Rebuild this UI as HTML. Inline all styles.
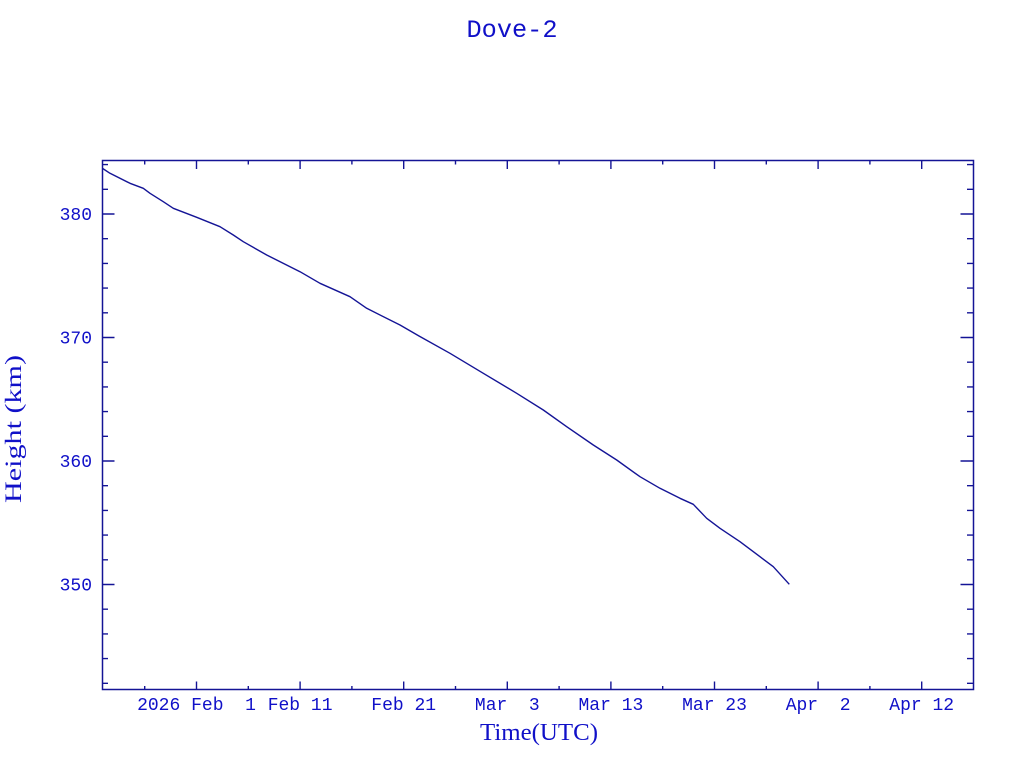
<!DOCTYPE html>
<html>
<head>
<meta charset="utf-8">
<style>
html,body{margin:0;padding:0;background:#fff;}
svg{display:block;}
</style>
</head>
<body>
<svg width="1024" height="768" viewBox="0 0 1024 768" xmlns="http://www.w3.org/2000/svg">
<rect x="0" y="0" width="1024" height="768" fill="#fff"/>
<text x="512" y="37" text-anchor="middle" font-family="Liberation Mono, monospace" font-size="25" fill="#1010c8" textLength="91" lengthAdjust="spacingAndGlyphs">Dove-2</text>

<rect x="102.5" y="160.5" width="871" height="529" fill="none" stroke="#141496" stroke-width="1.5"/>

<g stroke="#141496" stroke-width="1.4" fill="none">
<path d="M102 683.3h6M102 658.6h6M102 633.9h6M102 609.2h6M102 584.5h12.5M102 559.8h6M102 535.1h6M102 510.4h6M102 485.7h6M102 461h12.5M102 436.3h6M102 411.6h6M102 386.9h6M102 362.2h6M102 337.5h12.5M102 312.8h6M102 288.1h6M102 263.4h6M102 238.7h6M102 214h12.5M102 189.3h6M102 164.6h6"/>
<path d="M973 683.3h-6M973 658.6h-6M973 633.9h-6M973 609.2h-6M973 584.5h-12.5M973 559.8h-6M973 535.1h-6M973 510.4h-6M973 485.7h-6M973 461h-12.5M973 436.3h-6M973 411.6h-6M973 386.9h-6M973 362.2h-6M973 337.5h-12.5M973 312.8h-6M973 288.1h-6M973 263.4h-6M973 238.7h-6M973 214h-12.5M973 189.3h-6M973 164.6h-6"/>
<path d="M144.7 690v-4M196.5 690v-8.5M248.3 690v-4M300.1 690v-8.5M351.9 690v-4M403.7 690v-8.5M455.5 690v-4M507.3 690v-8.5M559.1 690v-4M610.9 690v-8.5M662.7 690v-4M714.5 690v-8.5M766.3 690v-4M818.1 690v-8.5M869.9 690v-4M921.7 690v-8.5"/>
<path d="M144.7 160v4.5M196.5 160v9M248.3 160v4.5M300.1 160v9M351.9 160v4.5M403.7 160v9M455.5 160v4.5M507.3 160v9M559.1 160v4.5M610.9 160v9M662.7 160v4.5M714.5 160v9M766.3 160v4.5M818.1 160v9M869.9 160v4.5M921.7 160v9"/>
</g>

<polyline fill="none" stroke="#141496" stroke-width="1.4" stroke-linejoin="round" points="102.7,168.5 110,173.3 130,183.3 143.3,188.3 150,193.3 163.3,201.7 173.3,208.3 196.7,217.3 220,226.7 233.3,235 243.3,241.7 266.7,255 300,271.7 320,283.3 350,296.7 366.7,308.3 400,325 419,336 450,353.3 483.3,373.3 516.7,393.3 543.3,410 566.7,426.7 593.3,445 616.7,460 640,476.7 660,488.3 680,498.3 693.3,504.3 706.7,518.3 720,528.3 740,541.7 760,556.7 773.3,566.7 789.3,584.3"/>

<g font-family="Liberation Mono, monospace" font-size="18" fill="#1010c8" text-anchor="end">
<text x="92" y="220">380</text>
<text x="92" y="343.5">370</text>
<text x="92" y="467">360</text>
<text x="92" y="590.5">350</text>
</g>
<g font-family="Liberation Mono, monospace" font-size="18" fill="#1010c8" text-anchor="middle">
<text x="196.5" y="710">2026 Feb&#160;&#160;1</text>
<text x="300.1" y="710">Feb 11</text>
<text x="403.7" y="710">Feb 21</text>
<text x="507.3" y="710">Mar&#160;&#160;3</text>
<text x="610.9" y="710">Mar 13</text>
<text x="714.5" y="710">Mar 23</text>
<text x="818.1" y="710">Apr&#160;&#160;2</text>
<text x="921.7" y="710">Apr 12</text>
</g>
<text x="539" y="740" text-anchor="middle" font-family="Liberation Serif, serif" font-size="24" fill="#1010c8" textLength="118" lengthAdjust="spacingAndGlyphs">Time(UTC)</text>
<text transform="translate(21,429) rotate(-90)" x="0" y="0" text-anchor="middle" font-family="Liberation Serif, serif" font-size="23" fill="#1010c8" textLength="148" lengthAdjust="spacingAndGlyphs">Height (km)</text>
</svg>
</body>
</html>
